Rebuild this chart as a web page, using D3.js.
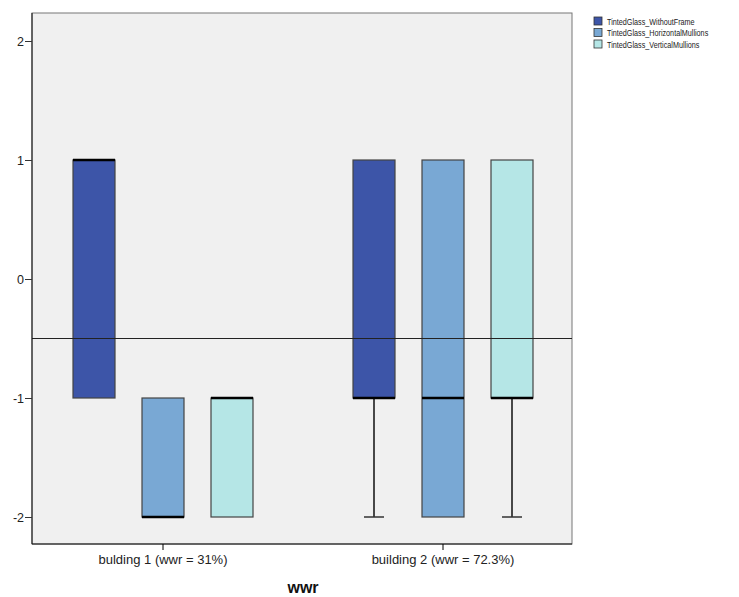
<!DOCTYPE html>
<html><head><meta charset="utf-8">
<script src="https://cdn.jsdelivr.net/npm/d3@7"></script>
<style>body{margin:0;background:#fff;}svg{display:block;font-family:Arial,"Liberation Sans",sans-serif;}</style>
</head><body>
<svg id="c" width="739" height="597"></svg>
<script>
const categories = ["bulding 1 (wwr = 31%)", "building 2 (wwr = 72.3%)"];
const series = ["TintedGlass_WithoutFrame", "TintedGlass_HorizontalMullions", "TintedGlass_VerticalMullions"];
const colors = ["#3d55a8", "#79a8d4", "#b5e6e6"];
// per category, per series: [min, q1, median, q3, max]
const building1 = [[-1, -1, 1, 1, 1], [-2, -2, -2, -1, -1], [-2, -2, -1, -1, -1]];
const building2 = [[-2, -1, -1, 1, 1], [-2, -2, -1, 1, 1], [-2, -1, -1, 1, 1]];
const yTicks = [-2, -1, 0, 1, 2];
const refLine = -0.5;
const xTitle = "wwr";

const stats = [building1, building2];
const svg = d3.select("#c");
const L = 32, R = 572, T = 13, B = 544;

const y = d3.scaleLinear().domain([-2, 2]).range([517, 41]);
const x = d3.scaleBand().domain(categories).range([23, 583]);
const xs = d3.scalePoint().domain(series).range([-69, 69]);
const bw = 42;

svg.append("rect").attr("x", L).attr("y", T).attr("width", R - L).attr("height", B - T)
  .attr("fill", "#f0f0f0").attr("stroke", "#777").attr("stroke-width", 1);

const g = svg.append("g");
stats.forEach((cat, ci) => {
  cat.forEach((s, si) => {
    const cx = x(categories[ci]) + x.bandwidth() / 2 + xs(series[si]);
    const [mn, q1, md, q3, mx] = s;
    if (mn < q1) {
      g.append("line").attr("x1", cx).attr("x2", cx).attr("y1", y(q1)).attr("y2", y(mn)).attr("stroke", "#111").attr("stroke-width", 1.5);
      g.append("line").attr("x1", cx - 10).attr("x2", cx + 10).attr("y1", y(mn)).attr("y2", y(mn)).attr("stroke", "#333").attr("stroke-width", 1.5);
    }
    if (mx > q3) {
      g.append("line").attr("x1", cx).attr("x2", cx).attr("y1", y(q3)).attr("y2", y(mx)).attr("stroke", "#111").attr("stroke-width", 1.5);
      g.append("line").attr("x1", cx - 10).attr("x2", cx + 10).attr("y1", y(mx)).attr("y2", y(mx)).attr("stroke", "#333").attr("stroke-width", 1.5);
    }
    g.append("rect").attr("x", cx - bw / 2).attr("y", y(q3)).attr("width", bw).attr("height", y(q1) - y(q3))
      .attr("fill", colors[si]).attr("stroke", "#444").attr("stroke-width", 1.2);
    g.append("line").attr("x1", cx - bw / 2).attr("x2", cx + bw / 2).attr("y1", y(md)).attr("y2", y(md))
      .attr("stroke", "#000").attr("stroke-width", 2.5);
  });
});

svg.append("line").attr("x1", L).attr("x2", R).attr("y1", y(refLine)).attr("y2", y(refLine))
  .attr("stroke", "#222").attr("stroke-width", 1);

const yAxis = svg.append("g").attr("transform", `translate(${L},0)`)
  .call(d3.axisLeft(y).tickValues(yTicks).tickSize(7).tickPadding(1).tickFormat(d => String(d)));
yAxis.select(".domain").attr("d", `M0,${T}V${B}`).attr("stroke", "#111");
yAxis.selectAll(".tick line").attr("stroke", "#333");
yAxis.selectAll("text").attr("font-size", 12.5).attr("fill", "#222").attr("font-family", "Arial, 'Liberation Sans', sans-serif");

const xAxis = svg.append("g").attr("transform", `translate(0,${B})`)
  .call(d3.axisBottom(x).tickSize(6).tickPadding(5));
xAxis.select(".domain").attr("d", `M${L},0H${R}`).attr("stroke", "#111");
xAxis.selectAll("text").attr("font-size", 13).attr("fill", "#222").attr("font-family", "Arial, 'Liberation Sans', sans-serif");

svg.append("text").attr("x", 303).attr("y", 593).attr("text-anchor", "middle")
  .attr("font-size", 16).attr("font-weight", "bold").attr("fill", "#111").text(xTitle);

const lg = svg.append("g").attr("transform", "translate(594,17)");
series.forEach((s, i) => {
  lg.append("rect").attr("x", 0).attr("y", i * 11.5).attr("width", 8).attr("height", 8)
    .attr("fill", colors[i]).attr("stroke", "#333").attr("stroke-width", 0.8);
  lg.append("text").attr("transform", `translate(13,${i * 11.5 + 7.8}) scale(0.86,1)`)
    .attr("font-size", 8.4).attr("fill", "#222").text(s);
});
</script>
</body></html>
